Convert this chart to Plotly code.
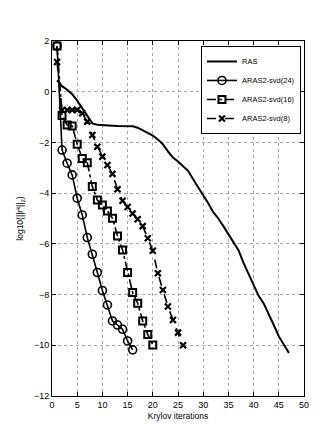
import plotly.graph_objects as go

# residual history, log10 of the 2-norm per Krylov iteration
ras_it = list(range(1, 48))
ras_res = [0.45, 0.22, 0.08, -0.10, -0.35, -0.65, -0.95, -1.25, -1.30, -1.32,
           -1.33, -1.34, -1.35, -1.35, -1.35, -1.36, -1.42, -1.52, -1.62, -1.73,
           -1.88, -2.07, -2.35, -2.60, -2.75, -2.95, -3.12, -3.45, -3.75, -4.05,
           -4.40, -4.75, -5.00, -5.30, -5.60, -5.90, -6.25, -6.75, -7.20, -7.60,
           -8.05, -8.35, -8.75, -9.20, -9.65, -9.95, -10.30]

svd24_it = list(range(1, 17))
svd24_res = [1.80, -2.30, -2.82, -3.28, -4.20, -4.86, -5.75, -6.41, -7.13, -7.84,
             -8.41, -9.04, -9.20, -9.37, -9.83, -10.18]

svd16_it = list(range(1, 21))
svd16_res = [1.80, -0.94, -1.31, -1.35, -2.07, -2.63, -2.80, -3.74, -4.27, -4.47,
             -4.70, -4.99, -5.69, -6.24, -7.13, -7.92, -8.34, -9.04, -9.57, -9.99]

svd8_it = list(range(1, 27))
svd8_res = [1.17, -0.72, -0.72, -0.72, -0.72, -0.85, -1.18, -1.71, -2.17, -2.56,
            -2.89, -3.24, -3.85, -4.30, -4.55, -4.80, -5.03, -5.30, -5.78, -6.27,
            -7.16, -7.82, -8.47, -9.00, -9.50, -10.00]

font = "Liberation Sans Narrow, Arial Narrow, Liberation Sans, sans-serif"

fig = go.Figure()
fig.add_trace(go.Scatter(x=ras_it, y=ras_res, mode="lines", name="RAS",
                         line=dict(color="black", width=2)))
fig.add_trace(go.Scatter(x=svd24_it, y=svd24_res, mode="lines+markers",
                         name="ARAS2-svd(24)",
                         line=dict(color="black", width=1.6),
                         marker=dict(symbol="circle-open", size=8, color="black",
                                     line=dict(width=1.6))))
fig.add_trace(go.Scatter(x=svd16_it, y=svd16_res, mode="lines+markers",
                         name="ARAS2-svd(16)",
                         line=dict(color="black", width=1.6, dash="dashdot"),
                         marker=dict(symbol="square-open", size=7, color="black",
                                     line=dict(width=2))))
fig.add_trace(go.Scatter(x=svd8_it, y=svd8_res, mode="lines+markers",
                         name="ARAS2-svd(8)",
                         line=dict(color="black", width=1.6, dash="dash"),
                         marker=dict(symbol="x-thin-open", size=6, color="black",
                                     line=dict(width=2.2, color="black"))))

axis = dict(showline=True, linecolor="black", linewidth=1, mirror="ticks",
            ticks="inside", ticklen=4, tickcolor="black",
            showgrid=True, gridcolor="#a8a8a8", griddash="dot", gridwidth=1,
            zeroline=False, tickfont=dict(size=9, color="black"))

fig.update_xaxes(axis, range=[0, 50], dtick=5,
                 title=dict(text="Krylov iterations", font=dict(size=8.5), standoff=4))
fig.update_yaxes(axis, range=[-12, 2], dtick=2,
                 title=dict(text="log10(||r<sup>k</sup>||<sub>2</sub>)",
                            font=dict(size=8.5), standoff=8))

fig.update_layout(
    width=327, height=436,
    margin=dict(l=42, r=31, t=33, b=48),
    paper_bgcolor="white", plot_bgcolor="white",
    font=dict(family=font, color="black", size=9),
    showlegend=True,
    legend=dict(x=0.988, y=0.986, xanchor="right", yanchor="top",
                bgcolor="white", bordercolor="black", borderwidth=1,
                font=dict(size=7.5), itemwidth=30, tracegroupgap=0),
)

fig.write_html("out.html")
